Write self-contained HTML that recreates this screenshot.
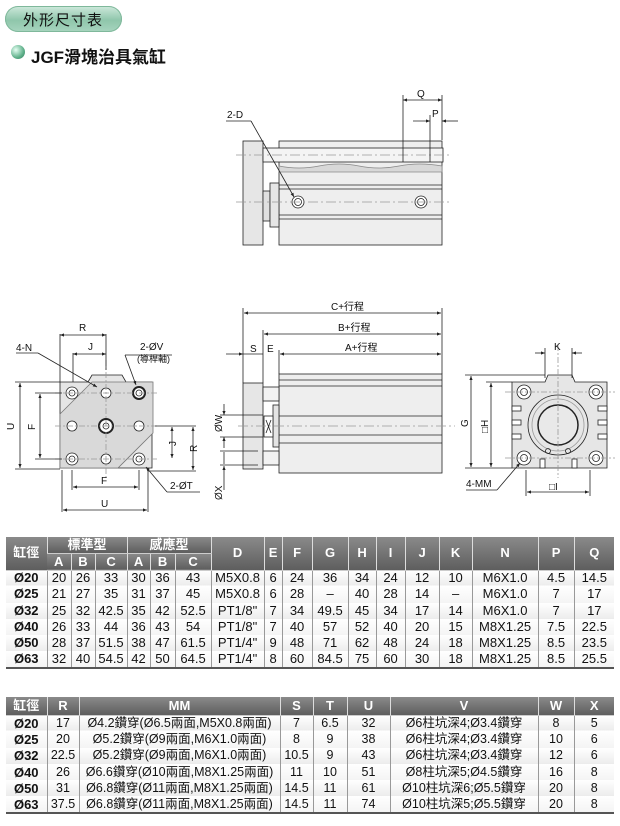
<!DOCTYPE html>
<html><head><meta charset="utf-8"><style>
body{margin:0;width:620px;height:826px;background:#fff;position:relative;overflow:hidden;font-family:"Liberation Sans","Noto Sans CJK TC",sans-serif}
.pill{position:absolute;left:5px;top:6px;width:117px;height:26px;border-radius:13px;background:linear-gradient(#cfe9dc,#8fc6ab 55%,#a8d5bf);box-shadow:inset 0 0 0 1px #7fb89b}
.pill span{position:absolute;left:18px;top:3px;font-size:15px;letter-spacing:1px;color:#111}
.ball{position:absolute;left:11px;top:45px;width:14px;height:14px;border-radius:50%;background:radial-gradient(circle at 35% 35%,#e6fff3,#5fb08a 60%,#2f7d5a)}
.ttl{position:absolute;left:31px;top:43px;font-size:17px;font-weight:bold;color:#111}
table{position:absolute;border-collapse:collapse;table-layout:fixed;font-size:13px;color:#111;line-height:14px}
td,th{padding:0;text-align:center;border-left:1px solid #999;white-space:nowrap;overflow:hidden}
th{background:linear-gradient(#8a8a8a,#5e5e5e);color:#fff;font-weight:bold;border-left:1px solid #ddd;border-bottom:1px solid #ccc}
td:first-child,th:first-child{border-left:0}
td:first-child{font-weight:bold}
tbody tr:nth-child(odd) td{background:linear-gradient(#fff,#ececec)}
tbody tr:nth-child(even) td{background:linear-gradient(#fff,#f4f4f4)}
table{border-bottom:2px solid #555}
.t2 td{font-size:12.5px;line-height:13px}
.t2 td:first-child{font-size:13px}
</style></head><body>
<div class="pill"><span>外形尺寸表</span></div>
<div class="ball"></div><div class="ttl">JGF滑塊治具氣缸</div>

<svg width="620" height="530" style="position:absolute;left:0;top:0" font-family="Liberation Sans, Noto Sans CJK TC, sans-serif" font-size="10" fill="none" stroke="#222" stroke-width="0.8">
<defs><marker id="a" viewBox="0 0 10 10" refX="10" refY="5" markerWidth="8" markerHeight="5" orient="auto-start-reverse"><path d="M0,1 L10,5 L0,9z" fill="#222" stroke="none"/></marker></defs>
<g>
<rect x="243" y="141" width="20" height="104" fill="#e6e6e6"/>
<rect x="279" y="141" width="163" height="104" fill="#eeeeee"/>
<rect x="263" y="148" width="180" height="14" fill="#f4f4f4"/>
<path d="M279,166 q20,4 40,0 t40,0 t40,0 t43,0 L442,172 L279,172z" fill="#d8d8d8" stroke="#888"/>
<line x1="279" y1="185" x2="442" y2="185"/><line x1="279" y1="189" x2="442" y2="189"/>
<line x1="279" y1="215" x2="442" y2="215"/><line x1="279" y1="219" x2="442" y2="219"/>
<rect x="263" y="191" width="7" height="30" fill="#e0e0e0"/><rect x="270" y="183" width="9" height="44" fill="#e6e6e6"/>
<circle cx="298" cy="202" r="6" fill="#fff"/><circle cx="298" cy="202" r="3.5"/>
<circle cx="421" cy="202" r="6" fill="#fff"/><circle cx="421" cy="202" r="3.5"/>
<line x1="236" y1="155" x2="450" y2="155" stroke="#999" stroke-dasharray="10,3,2,3"/>
<line x1="236" y1="202" x2="450" y2="202" stroke="#999" stroke-dasharray="10,3,2,3"/>
<line x1="403" y1="95" x2="403" y2="162"/><line x1="442" y1="95" x2="442" y2="140"/><line x1="430" y1="115" x2="430" y2="162"/>
<line x1="403" y1="100" x2="442" y2="100" marker-start="url(#a)" marker-end="url(#a)"/>
<line x1="413" y1="121" x2="430" y2="121" marker-end="url(#a)"/><line x1="458" y1="121" x2="442" y2="121" marker-end="url(#a)"/>
<line x1="226" y1="121" x2="251" y2="121"/><line x1="251" y1="121" x2="294" y2="197" marker-end="url(#a)"/>
<text x="417" y="97" fill="#111" stroke="none">Q</text><text x="432" y="117" fill="#111" stroke="none">P</text><text x="227" y="118" fill="#111" stroke="none">2-D</text>
</g>
<g>
<path d="M60,382 h28 l4,-7 h30 l4,7 h26 v86 h-92z" fill="#e6e6e6"/>
<path d="M92,382 L60,414 V468 h58 l35,-35 V382z" fill="#d9d9d9" stroke="#777"/>
<g fill="#fff"><circle cx="72" cy="393" r="6"/><circle cx="106" cy="393" r="5"/><circle cx="139" cy="393" r="6" stroke-width="2"/>
<circle cx="72" cy="426" r="5"/><circle cx="106" cy="426" r="7" stroke-width="2"/><circle cx="139" cy="426" r="5"/>
<circle cx="72" cy="459" r="6"/><circle cx="106" cy="459" r="5"/><circle cx="139" cy="459" r="6"/></g>
<circle cx="72" cy="393" r="3"/><circle cx="139" cy="393" r="3"/><circle cx="72" cy="459" r="3"/><circle cx="139" cy="459" r="3"/><circle cx="106" cy="426" r="3"/>
<g stroke="#999" stroke-dasharray="6,2,2,2"><line x1="55" y1="393" x2="158" y2="393"/><line x1="55" y1="426" x2="158" y2="426"/><line x1="55" y1="459" x2="158" y2="459"/><line x1="106" y1="360" x2="106" y2="480"/></g>
<line x1="60" y1="334" x2="60" y2="382"/><line x1="106" y1="334" x2="106" y2="370"/><line x1="73" y1="353" x2="73" y2="382"/>
<line x1="60" y1="335" x2="106" y2="335" marker-start="url(#a)" marker-end="url(#a)"/>
<line x1="73" y1="354" x2="106" y2="354" marker-start="url(#a)" marker-end="url(#a)"/>
<line x1="15" y1="382" x2="60" y2="382"/><line x1="15" y1="469" x2="60" y2="469"/><line x1="35" y1="393" x2="62" y2="393"/><line x1="35" y1="459" x2="62" y2="459"/>
<line x1="20" y1="383" x2="20" y2="468" marker-start="url(#a)" marker-end="url(#a)"/>
<line x1="40" y1="394" x2="40" y2="458" marker-start="url(#a)" marker-end="url(#a)"/>
<line x1="155" y1="426" x2="196" y2="426"/><line x1="148" y1="471" x2="196" y2="471"/>
<line x1="172" y1="427" x2="172" y2="458" marker-start="url(#a)" marker-end="url(#a)"/>
<line x1="193" y1="427" x2="193" y2="470" marker-start="url(#a)" marker-end="url(#a)"/>
<line x1="72" y1="470" x2="72" y2="490"/><line x1="139" y1="470" x2="139" y2="490"/><line x1="62" y1="470" x2="62" y2="512"/><line x1="148" y1="470" x2="148" y2="512"/>
<line x1="73" y1="487" x2="138" y2="487" marker-start="url(#a)" marker-end="url(#a)"/>
<line x1="63" y1="510" x2="147" y2="510" marker-start="url(#a)" marker-end="url(#a)"/>
<line x1="16" y1="353" x2="38" y2="353"/><line x1="38" y1="353" x2="97" y2="387" marker-end="url(#a)"/>
<line x1="125" y1="355" x2="172" y2="355"/><line x1="125" y1="355" x2="136" y2="385" marker-end="url(#a)"/>
<line x1="200" y1="492" x2="167" y2="492"/><line x1="167" y1="492" x2="146" y2="467" marker-end="url(#a)"/>
<g fill="#111" stroke="none"><text x="79" y="331">R</text><text x="88" y="350">J</text><text x="16" y="351">4-N</text><text x="140" y="350">2-ØV</text><text x="137" y="362" font-size="9">(導桿軸)</text>
<text x="101" y="484">F</text><text x="101" y="507">U</text><text x="170" y="489">2-ØT</text>
<text transform="translate(14,430) rotate(-90)">U</text><text transform="translate(35,430) rotate(-90)">F</text>
<text transform="translate(176,446) rotate(-90)">J</text><text transform="translate(197,452) rotate(-90)">R</text></g>
</g>
<g>
<rect x="243" y="383" width="20" height="86" fill="#e6e6e6"/>
<rect x="279" y="374" width="163" height="99" fill="#eeeeee"/>
<line x1="279" y1="380" x2="442" y2="380"/><line x1="279" y1="386" x2="442" y2="386"/>
<line x1="279" y1="416" x2="442" y2="416"/><line x1="279" y1="435" x2="442" y2="435"/><line x1="279" y1="443" x2="442" y2="443"/>
<rect x="263" y="387" width="16" height="14" fill="#f2f2f2"/><rect x="263" y="451" width="16" height="14" fill="#f2f2f2"/>
<rect x="273" y="405" width="6" height="42" fill="#e4e4e4"/><rect x="264" y="416" width="9" height="21" fill="#fff"/>
<line x1="266" y1="420" x2="271" y2="433"/><line x1="271" y1="420" x2="266" y2="433"/>
<line x1="238" y1="426" x2="455" y2="426" stroke="#999" stroke-dasharray="10,3,2,3"/>
<line x1="243" y1="308" x2="243" y2="383"/><line x1="442" y1="308" x2="442" y2="374"/><line x1="263" y1="330" x2="263" y2="383"/><line x1="279" y1="350" x2="279" y2="374"/>
<line x1="244" y1="313" x2="441" y2="313" marker-start="url(#a)" marker-end="url(#a)"/>
<line x1="264" y1="334" x2="441" y2="334" marker-start="url(#a)" marker-end="url(#a)"/>
<line x1="280" y1="354" x2="441" y2="354" marker-start="url(#a)" marker-end="url(#a)"/>
<line x1="226" y1="354" x2="243" y2="354" marker-end="url(#a)"/><line x1="243" y1="354" x2="263" y2="354"/>
<line x1="220" y1="415" x2="263" y2="415"/><line x1="220" y1="437" x2="263" y2="437"/><line x1="220" y1="451" x2="258" y2="451"/><line x1="220" y1="465" x2="258" y2="465"/>
<line x1="224" y1="404" x2="224" y2="415" marker-end="url(#a)"/><line x1="224" y1="448" x2="224" y2="437" marker-end="url(#a)"/>
<line x1="224" y1="452" x2="224" y2="464" /><line x1="224" y1="490" x2="224" y2="466" marker-end="url(#a)"/>
<g fill="#111" stroke="none"><text x="331" y="310">C+行程</text><text x="338" y="331">B+行程</text><text x="345" y="351">A+行程</text>
<text x="250" y="352">S</text><text x="267" y="352">E</text>
<text transform="translate(222,432) rotate(-90)">ØW</text><text transform="translate(222,500) rotate(-90)">ØX</text></g>
</g>
<g>
<path d="M512,382 h33 l3,-7 h24 l3,7 h32 v86 h-95z" fill="#e6e6e6"/>
<circle cx="558" cy="425" r="30" fill="#e6e6e6"/><circle cx="558" cy="425" r="26" stroke="#999"/><circle cx="558" cy="425" r="20" fill="#e9e9e9" stroke-width="1.5"/>
<g fill="#fff"><circle cx="524" cy="392" r="7"/><circle cx="596" cy="392" r="7"/><circle cx="524" cy="458" r="7"/><circle cx="596" cy="458" r="7"/></g>
<circle cx="524" cy="392" r="3.5"/><circle cx="596" cy="392" r="3.5"/><circle cx="524" cy="458" r="3.5"/><circle cx="596" cy="458" r="3.5"/>
<g fill="#fff"><rect x="512" y="406" width="9" height="5"/><rect x="512" y="420" width="9" height="5"/><rect x="512" y="434" width="9" height="5"/>
<rect x="598" y="406" width="9" height="5"/><rect x="598" y="420" width="9" height="5"/><rect x="598" y="434" width="9" height="5"/>
<rect x="540" y="459" width="5" height="9"/><rect x="572" y="459" width="5" height="9"/></g>
<circle cx="548" cy="451" r="2.5"/><circle cx="568" cy="451" r="2.5"/>
<g stroke="#999" stroke-dasharray="6,2,2,2"><line x1="558" y1="345" x2="558" y2="478"/><line x1="505" y1="392" x2="615" y2="392"/><line x1="505" y1="458" x2="615" y2="458"/></g>
<line x1="545" y1="348" x2="545" y2="378"/><line x1="572" y1="348" x2="572" y2="378"/>
<line x1="535" y1="353" x2="545" y2="353" marker-end="url(#a)"/><line x1="582" y1="353" x2="572" y2="353" marker-end="url(#a)"/>
<line x1="465" y1="375" x2="545" y2="375"/><line x1="486" y1="382" x2="512" y2="382"/><line x1="465" y1="468" x2="512" y2="468"/>
<line x1="471" y1="376" x2="471" y2="467" marker-start="url(#a)" marker-end="url(#a)"/>
<line x1="491" y1="383" x2="491" y2="467" marker-start="url(#a)" marker-end="url(#a)"/>
<line x1="526" y1="470" x2="526" y2="496"/><line x1="590" y1="470" x2="590" y2="496"/>
<line x1="527" y1="492" x2="589" y2="492" marker-start="url(#a)" marker-end="url(#a)"/>
<line x1="466" y1="490" x2="497" y2="490"/><line x1="497" y1="490" x2="520" y2="463" marker-end="url(#a)"/>
<g fill="#111" stroke="none"><text x="554" y="350">K</text><text x="466" y="487">4-MM</text><text x="549" y="490">□I</text>
<text transform="translate(468,427) rotate(-90)">G</text><text transform="translate(488,433) rotate(-90)">□H</text></g>
</g>
</svg>

<table style="left:6px;top:537px;width:608px">
<colgroup><col style="width:41px"><col style="width:24px"><col style="width:24px"><col style="width:32px"><col style="width:23px"><col style="width:25px"><col style="width:36px"><col style="width:53px"><col style="width:18px"><col style="width:30px"><col style="width:36px"><col style="width:28px"><col style="width:29px"><col style="width:34px"><col style="width:33px"><col style="width:66px"><col style="width:36px"><col style="width:40px"></colgroup>
<thead><tr style="height:16px"><th rowspan="2">缸徑</th><th colspan="3">標準型</th><th colspan="3">感應型</th><th rowspan="2">D</th><th rowspan="2">E</th><th rowspan="2">F</th><th rowspan="2">G</th><th rowspan="2">H</th><th rowspan="2">I</th><th rowspan="2">J</th><th rowspan="2">K</th><th rowspan="2">N</th><th rowspan="2">P</th><th rowspan="2">Q</th></tr>
<tr style="height:17px"><th>A</th><th>B</th><th>C</th><th>A</th><th>B</th><th>C</th></tr></thead>
<tbody>
<tr style="height:16.3px"><td>Ø20</td><td>20</td><td>26</td><td>33</td><td>30</td><td>36</td><td>43</td><td>M5X0.8</td><td>6</td><td>24</td><td>36</td><td>34</td><td>24</td><td>12</td><td>10</td><td>M6X1.0</td><td>4.5</td><td>14.5</td></tr>
<tr style="height:16.3px"><td>Ø25</td><td>21</td><td>27</td><td>35</td><td>31</td><td>37</td><td>45</td><td>M5X0.8</td><td>6</td><td>28</td><td>–</td><td>40</td><td>28</td><td>14</td><td>–</td><td>M6X1.0</td><td>7</td><td>17</td></tr>
<tr style="height:16.3px"><td>Ø32</td><td>25</td><td>32</td><td>42.5</td><td>35</td><td>42</td><td>52.5</td><td>PT1/8"</td><td>7</td><td>34</td><td>49.5</td><td>45</td><td>34</td><td>17</td><td>14</td><td>M6X1.0</td><td>7</td><td>17</td></tr>
<tr style="height:16.3px"><td>Ø40</td><td>26</td><td>33</td><td>44</td><td>36</td><td>43</td><td>54</td><td>PT1/8"</td><td>7</td><td>40</td><td>57</td><td>52</td><td>40</td><td>20</td><td>15</td><td>M8X1.25</td><td>7.5</td><td>22.5</td></tr>
<tr style="height:16.3px"><td>Ø50</td><td>28</td><td>37</td><td>51.5</td><td>38</td><td>47</td><td>61.5</td><td>PT1/4"</td><td>9</td><td>48</td><td>71</td><td>62</td><td>48</td><td>24</td><td>18</td><td>M8X1.25</td><td>8.5</td><td>23.5</td></tr>
<tr style="height:16.3px"><td>Ø63</td><td>32</td><td>40</td><td>54.5</td><td>42</td><td>50</td><td>64.5</td><td>PT1/4"</td><td>8</td><td>60</td><td>84.5</td><td>75</td><td>60</td><td>30</td><td>18</td><td>M8X1.25</td><td>8.5</td><td>25.5</td></tr>
</tbody></table>

<table class="t2" style="left:6px;top:697px;width:608px">
<colgroup><col style="width:41px"><col style="width:32px"><col style="width:201px"><col style="width:33px"><col style="width:34px"><col style="width:43px"><col style="width:148px"><col style="width:36px"><col style="width:40px"></colgroup>
<thead><tr style="height:18px"><th>缸徑</th><th>R</th><th>MM</th><th>S</th><th>T</th><th>U</th><th>V</th><th>W</th><th>X</th></tr></thead>
<tbody>
<tr style="height:16.3px"><td>Ø20</td><td>17</td><td>Ø4.2鑽穿(Ø6.5兩面,M5X0.8兩面)</td><td>7</td><td>6.5</td><td>32</td><td>Ø6柱坑深4;Ø3.4鑽穿</td><td>8</td><td>5</td></tr>
<tr style="height:16.3px"><td>Ø25</td><td>20</td><td>Ø5.2鑽穿(Ø9兩面,M6X1.0兩面)</td><td>8</td><td>9</td><td>38</td><td>Ø6柱坑深4;Ø3.4鑽穿</td><td>10</td><td>6</td></tr>
<tr style="height:16.3px"><td>Ø32</td><td>22.5</td><td>Ø5.2鑽穿(Ø9兩面,M6X1.0兩面)</td><td>10.5</td><td>9</td><td>43</td><td>Ø6柱坑深4;Ø3.4鑽穿</td><td>12</td><td>6</td></tr>
<tr style="height:16.3px"><td>Ø40</td><td>26</td><td>Ø6.6鑽穿(Ø10兩面,M8X1.25兩面)</td><td>11</td><td>10</td><td>51</td><td>Ø8柱坑深5;Ø4.5鑽穿</td><td>16</td><td>8</td></tr>
<tr style="height:16.3px"><td>Ø50</td><td>31</td><td>Ø6.8鑽穿(Ø11兩面,M8X1.25兩面)</td><td>14.5</td><td>11</td><td>61</td><td>Ø10柱坑深6;Ø5.5鑽穿</td><td>20</td><td>8</td></tr>
<tr style="height:16.3px"><td>Ø63</td><td>37.5</td><td>Ø6.8鑽穿(Ø11兩面,M8X1.25兩面)</td><td>14.5</td><td>11</td><td>74</td><td>Ø10柱坑深5;Ø5.5鑽穿</td><td>20</td><td>8</td></tr>
</tbody></table>
</body></html>
